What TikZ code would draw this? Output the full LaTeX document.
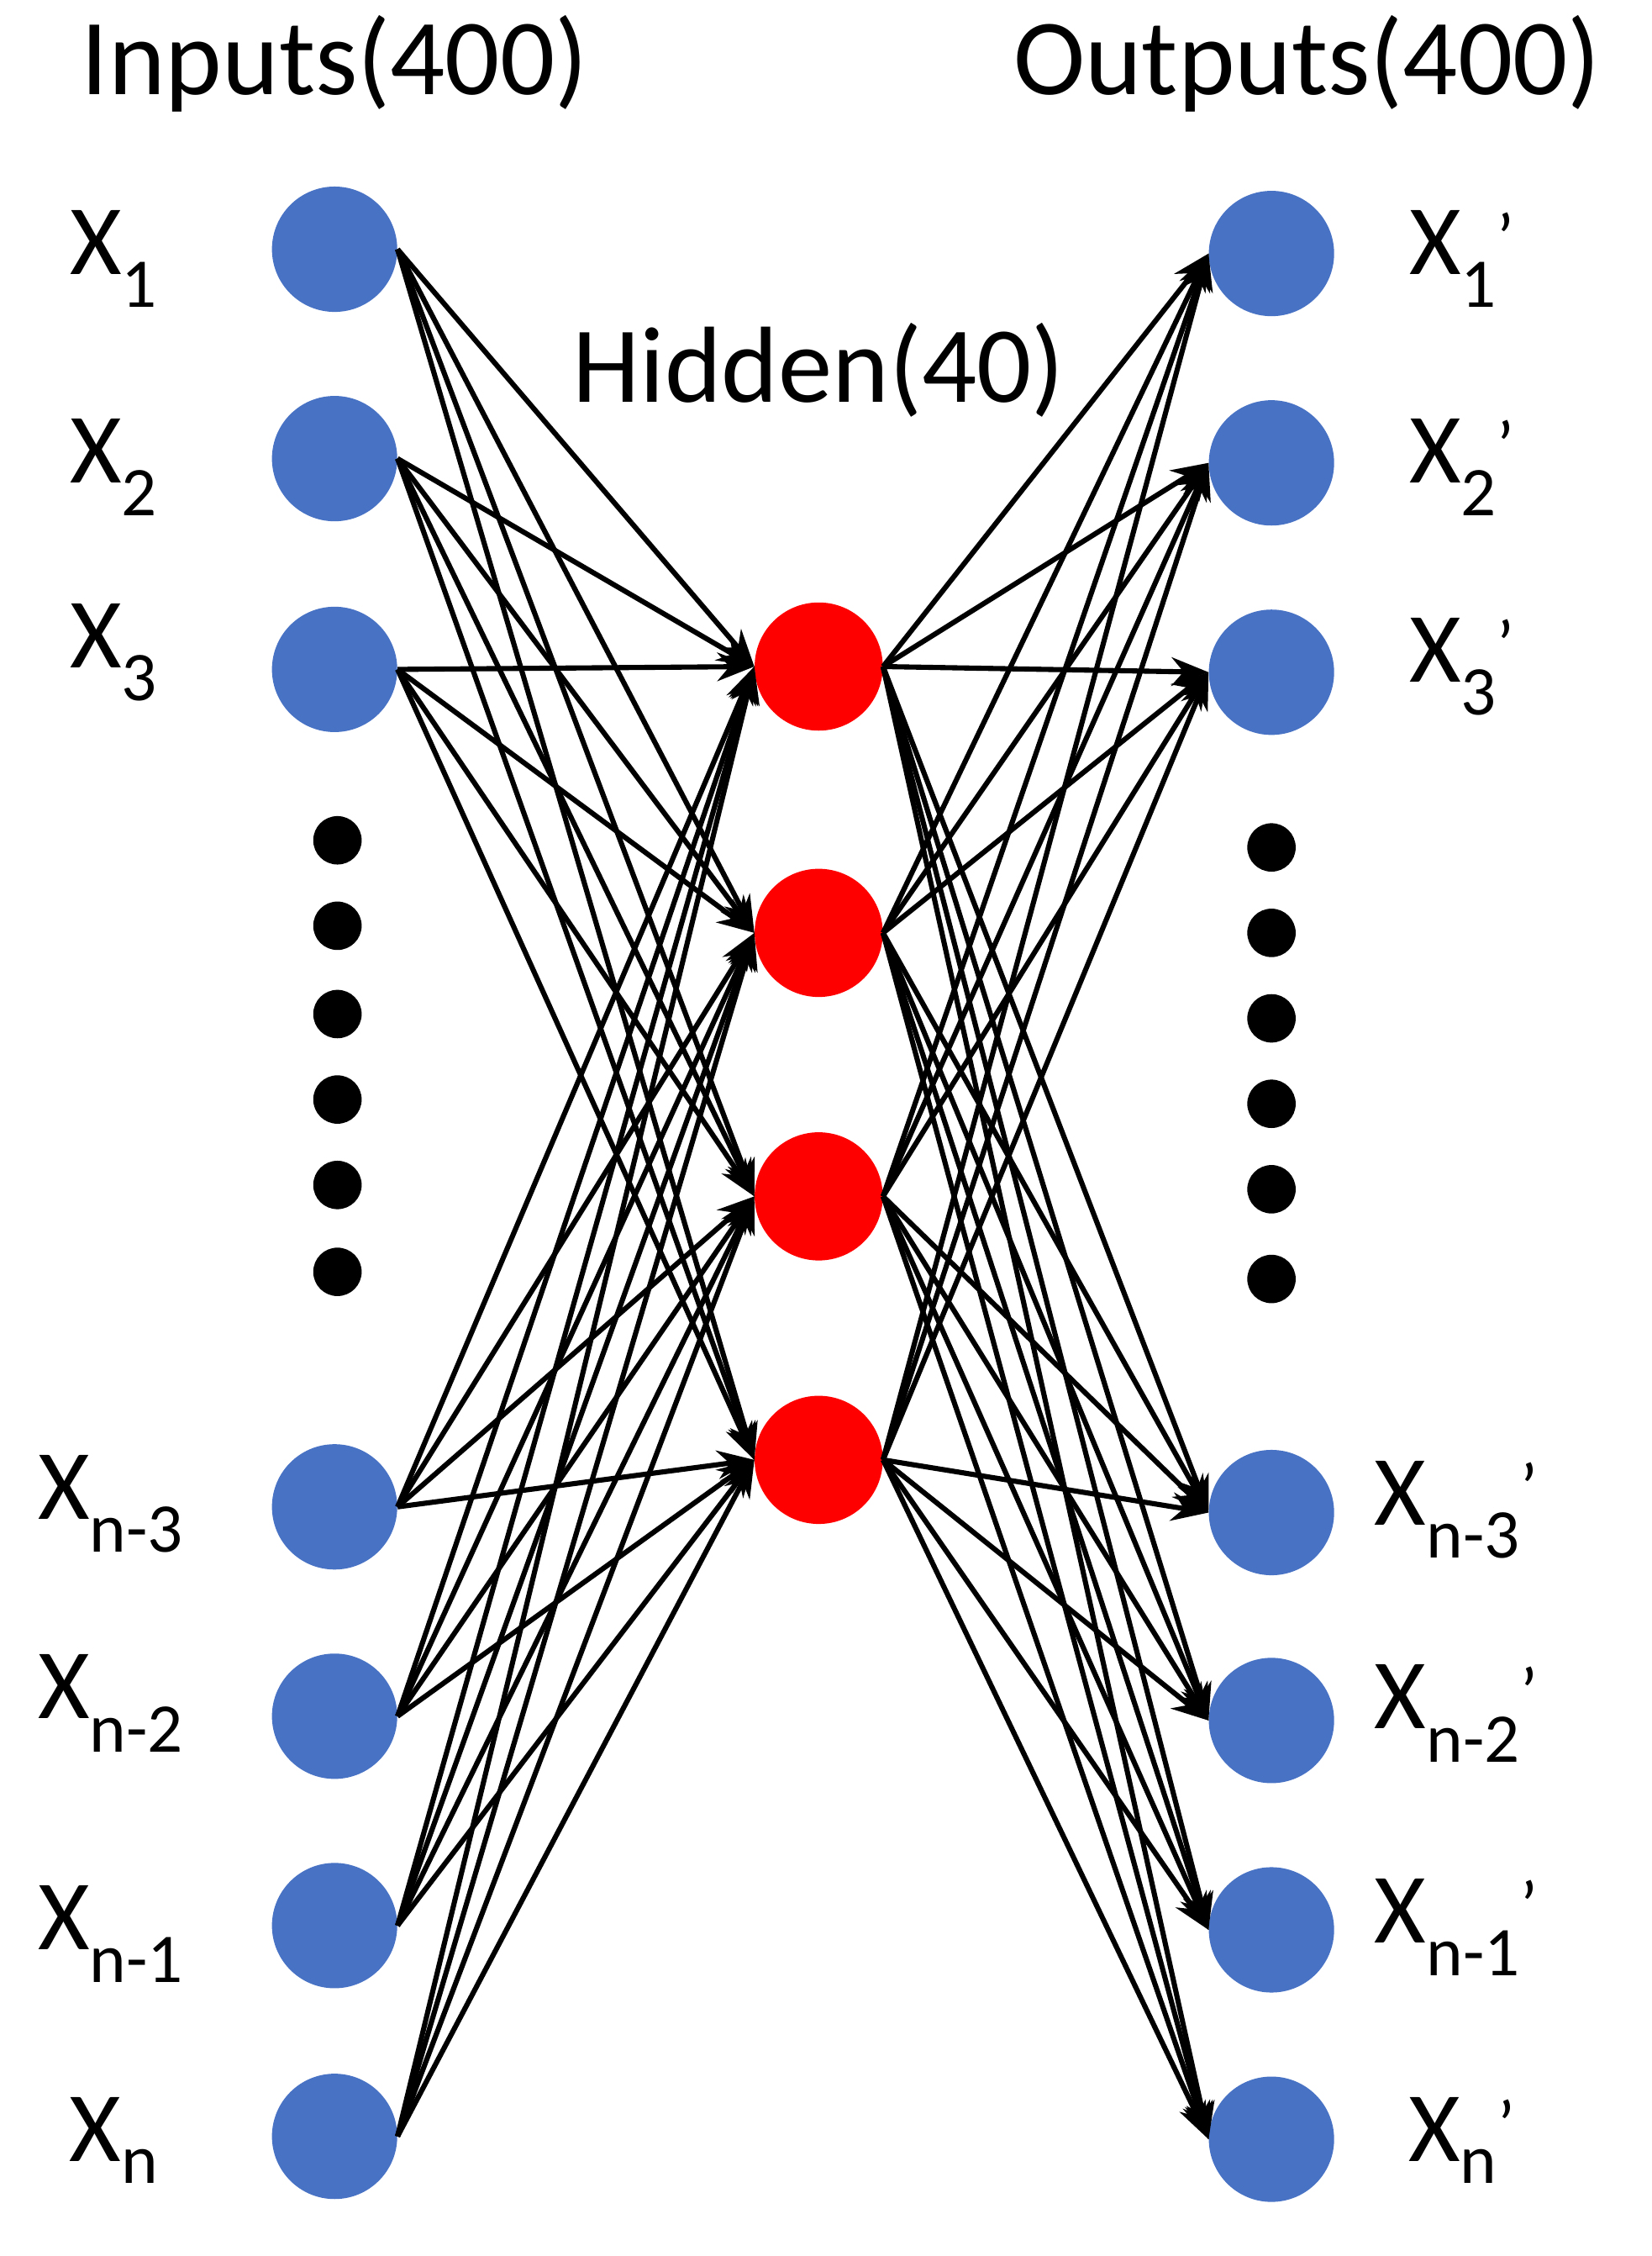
\documentclass[tikz,border=0pt]{standalone}
\usepackage{fontspec}
\setmainfont{Carlito}
\usetikzlibrary{arrows.meta}
\begin{document}
\begin{tikzpicture}[x=1pt,y=-1pt,
  inp/.style={circle,fill=nb,minimum size=88pt,inner sep=0},
  hid/.style={circle,fill=red,minimum size=90pt,inner sep=0},
  dotn/.style={circle,fill=black,minimum size=34pt,inner sep=0},
  lab/.style={font=\fontsize{76}{80}\selectfont},
  xlab/.style={font=\fontsize{70}{74}\selectfont},
  conn/.style={line width=3.6pt,-{Stealth[length=26pt,width=20pt]}}]
\definecolor{nb}{RGB}{72,114,196}
\useasboundingbox (0,0) rectangle (1160,1584);
\foreach \n/\y in {1/175,2/322,3/470,4/1058,5/1205,6/1352,7/1500}{
  \node[inp] (i\n) at (235,\y) {};}
\foreach \n/\y in {1/178,2/325,3/472,4/1062,5/1208,6/1355,7/1502}{
  \node[inp] (o\n) at (893,\y) {};}
\foreach \n/\y in {1/468,2/655,3/840,4/1025}{
  \node[hid] (h\n) at (575,\y) {};}
\foreach \n/\y in {1/590,2/650,3/712,4/772,5/832,6/893}{
  \node[dotn] (d\n) at (237,\y) {};}
\foreach \n/\y in {1/595,2/655,3/715,4/775,5/835,6/898}{
  \node[dotn] (e\n) at (893,\y) {};}
\foreach \i in {1,...,7}{\foreach \h in {1,...,4}{
  \draw[conn] (i\i.east) -- (h\h.west);
  \draw[conn] (h\h.east) -- (o\i.west);}}
\node[lab] (tin) at (235,45) {Inputs(400)};
\node[lab] (tout) at (918,45) {Outputs(400)};
\node[lab] (thid) at (575,260) {Hidden(40)};
\node[xlab] (l1) at (80,182) {X\textsubscript{1}};
\node[xlab] (l2) at (80,328) {X\textsubscript{2}};
\node[xlab] (l3) at (80,458) {X\textsubscript{3}};
\node[xlab] (l4) at (78,1056) {X\textsubscript{n-3}};
\node[xlab] (l5) at (78,1196) {X\textsubscript{n-2}};
\node[xlab] (l6) at (78,1358) {X\textsubscript{n-1}};
\node[xlab] (l7) at (80,1503) {X\textsubscript{n}};
\node[xlab] (r1) at (1027,182) {X\textsubscript{1}\textsuperscript{’}};
\node[xlab] (r2) at (1027,328) {X\textsubscript{2}\textsuperscript{’}};
\node[xlab] (r3) at (1027,468) {X\textsubscript{3}\textsuperscript{’}};
\node[xlab] (r4) at (1023,1060) {X\textsubscript{n-3}\textsuperscript{’}};
\node[xlab] (r5) at (1023,1203) {X\textsubscript{n-2}\textsuperscript{’}};
\node[xlab] (r6) at (1023,1353) {X\textsubscript{n-1}\textsuperscript{’}};
\node[xlab] (r7) at (1027,1503) {X\textsubscript{n}\textsuperscript{’}};
\end{tikzpicture}
\end{document}
